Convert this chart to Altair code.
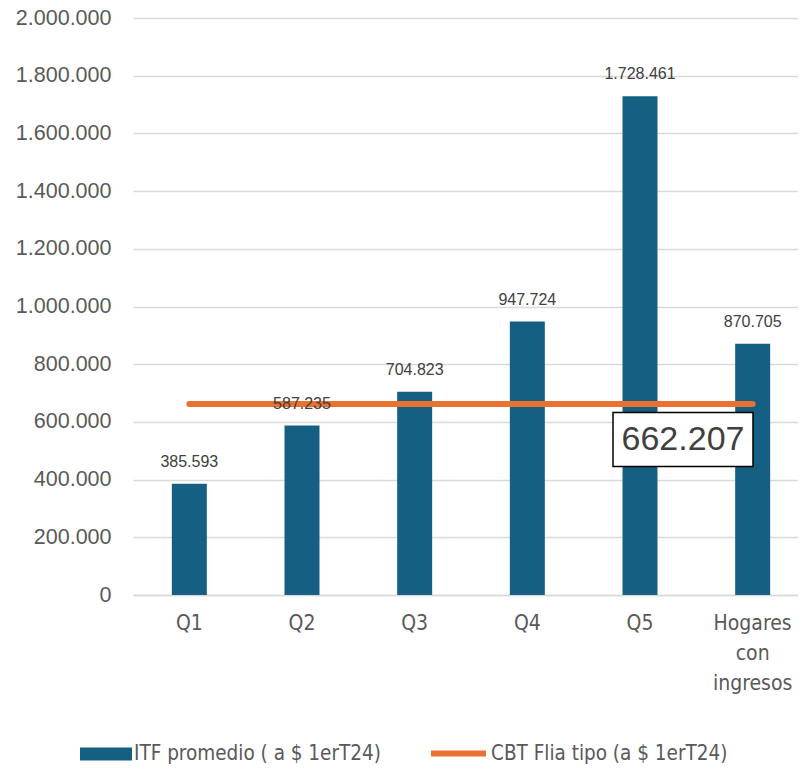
import altair as alt
import pandas as pd

categorias = ["Q1", "Q2", "Q3", "Q4", "Q5", "Hogares con ingresos"]
itf_promedio = [385593, 587235, 704823, 947724, 1728461, 870705]
cbt_valor = 662207
y_ticks = [0, 200000, 400000, 600000, 800000, 1000000, 1200000, 1400000, 1600000, 1800000, 2000000]

serie_itf = "ITF promedio ( a $ 1erT24)"
serie_cbt = "CBT Flia tipo (a $ 1erT24)"

NARROW = "'DejaVu Sans Condensed', 'Roboto Condensed', Roboto, sans-serif"

def fmt(v):
    return f"{v:,}".replace(",", ".")

bars_df = pd.DataFrame({
    "cat": categorias,
    "valor": itf_promedio,
    "label": [fmt(v) for v in itf_promedio],
    "serie": serie_itf,
})
line_df = pd.DataFrame({
    "cat": categorias,
    "valor": [cbt_valor] * len(categorias),
    "serie": serie_cbt,
})
box_df = pd.DataFrame({"cat": ["Q5"], "valor": [cbt_valor], "label": [fmt(cbt_valor)]})

x_enc = alt.X(
    "cat:N",
    sort=categorias,
    scale=alt.Scale(range=[0, 676], paddingInner=0, paddingOuter=0),
    axis=alt.Axis(
        title=None,
        labelAngle=0,
        labelFont=NARROW,
        labelFontSize=21,
        labelColor="#595959",
        labelPadding=17,
        labelLineHeight=30,
        labelExpr="split(datum.label, ' ')",
        ticks=False,
        domain=True,
        domainColor="#d9d9d9",
        domainWidth=1.5,
        grid=False,
    ),
)
y_scale = alt.Scale(domain=[0, 2000000], nice=False)
y_enc = alt.Y(
    "valor:Q",
    scale=y_scale,
    axis=alt.Axis(
        title=None,
        values=y_ticks,
        labelExpr="join(split(format(datum.value, ','), ','), '.')",
        labelFont="Liberation Sans",
        labelFontSize=21.5,
        labelColor="#595959",
        labelPadding=22,
        ticks=False,
        domain=False,
        grid=True,
        gridColor="#d9d9d9",
        gridWidth=1.5,
    ),
)

legend_common = dict(
    title=None,
    orient="none",
    labelFont=NARROW,
    labelFontSize=20.5,
    labelColor="#595959",
    labelOffset=2,
    labelLimit=400,
)

bars = alt.Chart(bars_df).mark_bar(size=35).encode(
    x=x_enc,
    y=y_enc,
    fill=alt.Fill(
        "serie:N",
        scale=alt.Scale(domain=[serie_itf], range=["#156082"]),
        legend=alt.Legend(
            legendX=-53,
            legendY=710,
            symbolType="M-1,-0.25H1V0.25H-1Z",
            symbolSize=2704,
            symbolStrokeWidth=0,
            **legend_common,
        ),
    ),
)

labels = alt.Chart(bars_df).mark_text(
    baseline="alphabetic", dy=-17, font="Liberation Sans", fontSize=16, color="#404040"
).encode(x=alt.X("cat:N", sort=categorias), y=alt.Y("valor:Q", scale=y_scale), text="label:N")

line = alt.Chart(line_df).mark_line(strokeWidth=6, strokeCap="round").encode(
    x=alt.X("cat:N", sort=categorias),
    y=alt.Y("valor:Q", scale=y_scale),
    stroke=alt.Stroke(
        "serie:N",
        scale=alt.Scale(domain=[serie_cbt], range=["#E97132"]),
        legend=alt.Legend(
            legendX=295,
            legendY=705,
            symbolType="stroke",
            symbolSize=3025,
            symbolStrokeWidth=6,
            **legend_common,
        ),
    ),
)

box = alt.Chart(box_df).mark_point(
    shape="M-1,-0.386H1V0.386H-1Z",
    size=19600,
    filled=True,
    fill="white",
    stroke="black",
    strokeWidth=1.5,
    opacity=1,
    xOffset=43,
    yOffset=35.5,
).encode(x=alt.X("cat:N", sort=categorias), y=alt.Y("valor:Q", scale=y_scale))

box_text = alt.Chart(box_df).mark_text(
    baseline="middle",
    align="center",
    font="Liberation Sans",
    fontSize=34,
    color="#404040",
    xOffset=43,
    yOffset=36,
).encode(x=alt.X("cat:N", sort=categorias), y=alt.Y("valor:Q", scale=y_scale), text="label:N")

chart = (
    alt.layer(bars, line, labels, box, box_text)
    .resolve_scale(fill="independent", stroke="independent")
    .properties(
        width=665,
        height=577,
        autosize=alt.AutoSizeParams(type="none"),
        padding={"left": 125, "top": 10, "right": 0, "bottom": 176},
        background="white",
    )
    .configure_view(stroke=None)
)

chart.save("out.html", embed_options={"renderer": "svg", "actions": False})
